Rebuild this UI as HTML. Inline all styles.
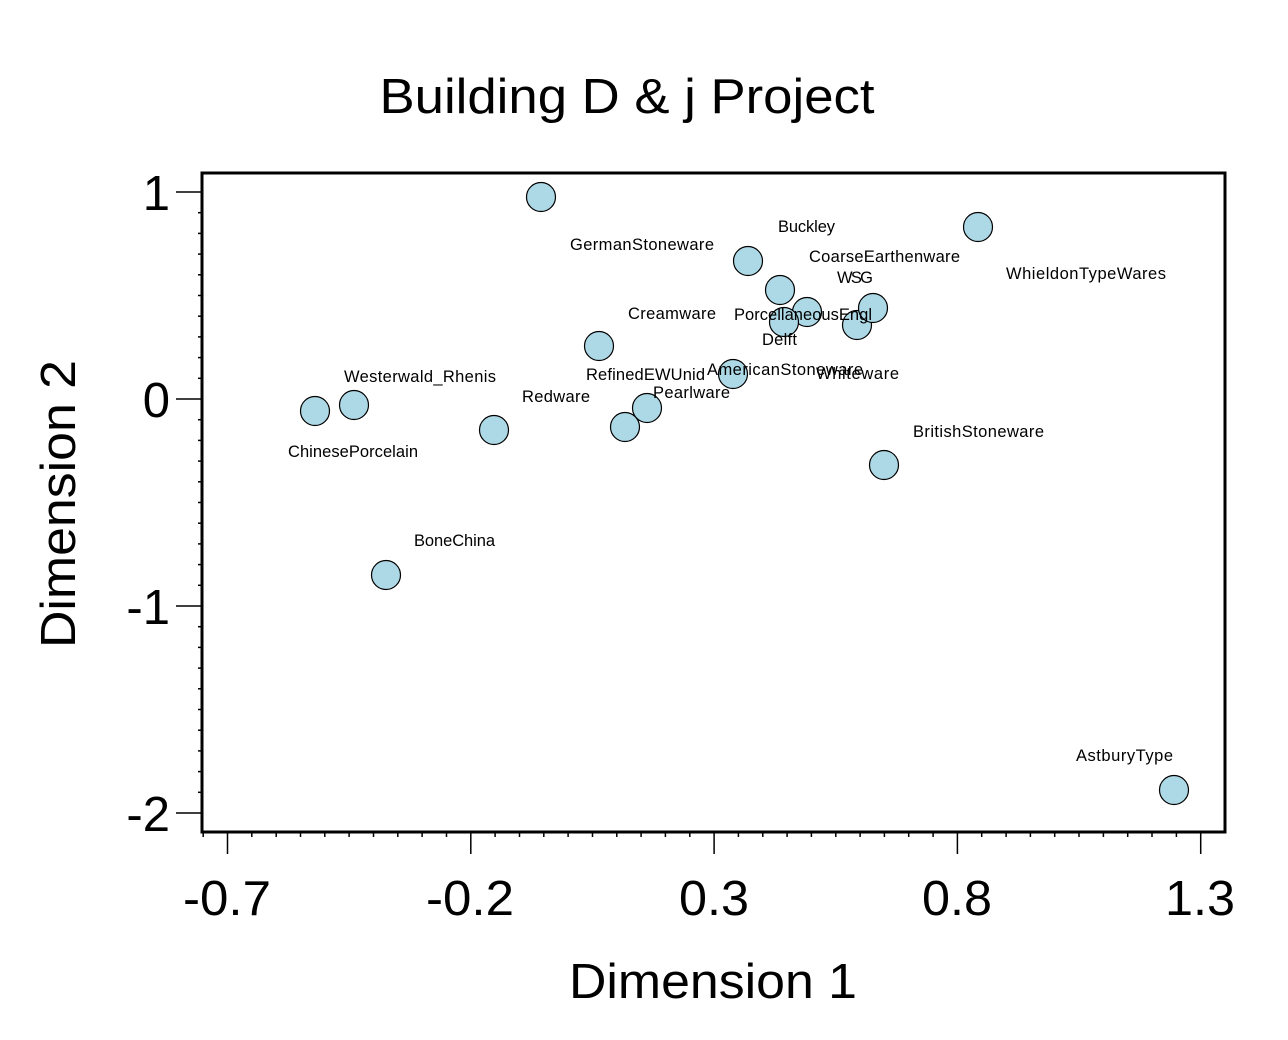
<!DOCTYPE html>
<html><head><meta charset="utf-8"><style>html,body{margin:0;padding:0;background:#fff}svg{display:block}</style></head>
<body>
<svg id="s" width="1288" height="1040" xmlns="http://www.w3.org/2000/svg" font-family="Liberation Sans, sans-serif">
<rect width="1288" height="1040" fill="#fff"/>
<text x="627" y="113" font-size="49" text-anchor="middle" textLength="495" lengthAdjust="spacingAndGlyphs">Building D &amp; j Project</text>
<g id="ticks" stroke="#000" stroke-width="1.5"></g>
<g font-size="49" text-anchor="middle">
<text x="227" y="915" textLength="88" lengthAdjust="spacingAndGlyphs">-0.7</text>
<text x="470" y="915" textLength="88" lengthAdjust="spacingAndGlyphs">-0.2</text>
<text x="714" y="915" textLength="70" lengthAdjust="spacingAndGlyphs">0.3</text>
<text x="957" y="915" textLength="70" lengthAdjust="spacingAndGlyphs">0.8</text>
<text x="1200" y="915" textLength="70" lengthAdjust="spacingAndGlyphs">1.3</text>
</g>
<g font-size="49" text-anchor="end">
<text x="170" y="210">1</text>
<text x="170" y="417">0</text>
<text x="170" y="624">-1</text>
<text x="170" y="831">-2</text>
</g>
<text x="713" y="998" font-size="49" text-anchor="middle" textLength="288" lengthAdjust="spacingAndGlyphs">Dimension 1</text>
<text transform="translate(75,504) rotate(-90)" font-size="49" text-anchor="middle" textLength="288" lengthAdjust="spacingAndGlyphs">Dimension 2</text>
<g fill="#ADD8E6" stroke="#000" stroke-width="1.2">
<circle cx="541" cy="197" r="14.5"/>
<circle cx="978" cy="227" r="14.5"/>
<circle cx="748" cy="261" r="14.5"/>
<circle cx="780" cy="290" r="14.5"/>
<circle cx="807" cy="312" r="14.5"/>
<circle cx="857" cy="325" r="14.5"/>
<circle cx="873" cy="308" r="14.5"/>
<circle cx="784" cy="322" r="14.5"/>
<circle cx="599" cy="346" r="14.5"/>
<circle cx="733" cy="374" r="14.5"/>
<circle cx="354" cy="405" r="14.5"/>
<circle cx="315" cy="411" r="14.5"/>
<circle cx="494" cy="430" r="14.5"/>
<circle cx="647" cy="408" r="14.5"/>
<circle cx="625" cy="427" r="14.5"/>
<circle cx="884" cy="465" r="14.5"/>
<circle cx="386" cy="575" r="14.5"/>
<circle cx="1174" cy="790" r="14.5"/>
</g>
<g font-size="16.5" lengthAdjust="spacingAndGlyphs">
<text x="778" y="232" textLength="57">Buckley</text>
<text x="570" y="250" textLength="144">GermanStoneware</text>
<text x="809" y="262" textLength="151">CoarseEarthenware</text>
<text x="837" y="283" textLength="36">WSG</text>
<text x="1006" y="279" textLength="160">WhieldonTypeWares</text>
<text x="628" y="319" textLength="88">Creamware</text>
<text x="734" y="320" textLength="138">PorcellaneousEngl</text>
<text x="762" y="345" textLength="35">Delft</text>
<text x="344" y="382" textLength="152">Westerwald_Rhenis</text>
<text x="586" y="380" textLength="119">RefinedEWUnid</text>
<text x="707" y="375" textLength="156">AmericanStoneware</text>
<text x="816" y="379" textLength="83">Whiteware</text>
<text x="522" y="402" textLength="68">Redware</text>
<text x="653" y="398" textLength="77">Pearlware</text>
<text x="288" y="457" textLength="130">ChinesePorcelain</text>
<text x="913" y="437" textLength="131">BritishStoneware</text>
<text x="414" y="546" textLength="81">BoneChina</text>
<text x="1076" y="761" textLength="97">AstburyType</text>
</g>
<rect x="202" y="173" width="1023" height="659" fill="none" stroke="#000" stroke-width="3"/>
</svg>
<script>
var g=document.getElementById('ticks'),h='';
for(var i=0;i<=30;i++){var y=192+i*20.7;if(y>832)break;var maj=(i%10==0);h+='<line x1="'+(maj?176:198)+'" y1="'+y.toFixed(1)+'" x2="201" y2="'+y.toFixed(1)+'"/>';}
for(var i=-1;i<=42;i++){var x=227.5+i*24.33;if(x<203||x>1225)continue;var maj=(i%10==0);h+='<line x1="'+x.toFixed(1)+'" y1="833" x2="'+x.toFixed(1)+'" y2="'+(maj?854:837)+'"/>';}
g.innerHTML=h;
</script>
</body></html>
